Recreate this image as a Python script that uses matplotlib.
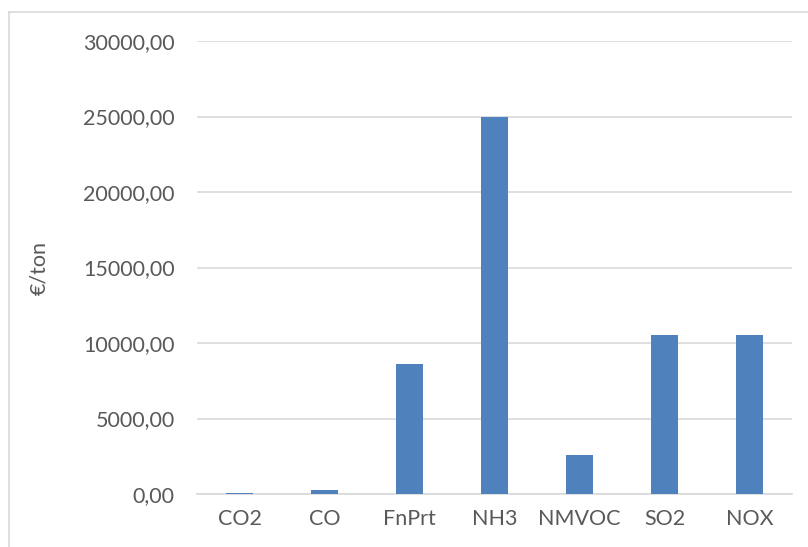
import matplotlib.pyplot as plt
from matplotlib.lines import Line2D
from matplotlib.ticker import FuncFormatter

# Emission cost per pollutant
pollutants = ["CO2", "CO", "FnPrt", "NH3", "NMVOC", "SO2", "NOX"]
cost_per_ton = [90, 280, 8600, 25000, 2600, 10500, 10500]

plt.rcParams['font.family'] = ['Lato', 'DejaVu Sans']

fig = plt.figure(figsize=(8.08, 5.47), dpi=100)
ax = fig.add_axes([0.2438, 0.0969, 0.7362, 0.8281])

ax.bar(pollutants, cost_per_ton, width=0.32, color="#4F81BD", zorder=3)

ax.set_ylim(0, 30000)
ax.set_xlim(-0.5, len(pollutants) - 0.5)
ax.set_yticks(range(0, 30001, 5000))
ax.yaxis.set_major_formatter(FuncFormatter(lambda v, p: f"{v:.2f}".replace(".", ",")))
ax.grid(axis="y", color="#D9D9D9", linewidth=1.2, zorder=0)

for s in ["top", "right", "left"]:
    ax.spines[s].set_visible(False)
ax.spines["bottom"].set_color("#D9D9D9")
ax.spines["bottom"].set_linewidth(1.2)

ax.tick_params(axis="both", length=0, labelsize=15.5, colors="#595959")
ax.tick_params(axis="y", pad=16)
ax.tick_params(axis="x", pad=11)
ax.set_ylabel("€/ton", fontsize=15.5, color="#595959", labelpad=24)

# chart area border (only top and left visible)
fig.add_artist(Line2D([9 / 808, 9 / 808], [0, 1 - 12 / 547], color="#D9D9D9", linewidth=1.2))
fig.add_artist(Line2D([9 / 808, 1], [1 - 12 / 547, 1 - 12 / 547], color="#D9D9D9", linewidth=1.2))

fig.savefig("out.png", dpi=100)
